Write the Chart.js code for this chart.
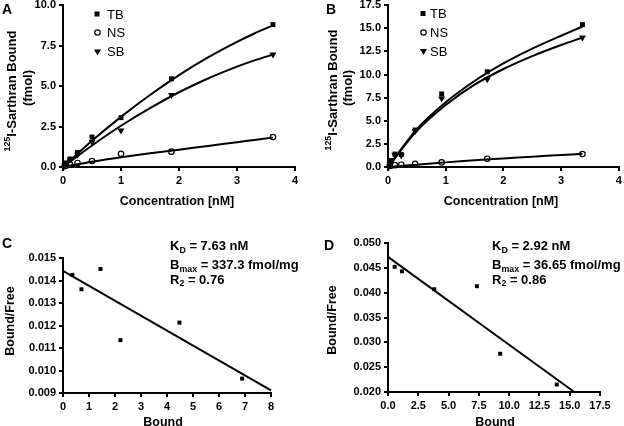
<!DOCTYPE html>
<html>
<head>
<meta charset="utf-8">
<script src="https://cdn.jsdelivr.net/npm/chart.js@4.4.0/dist/chart.umd.min.js"></script>
<style>
  html, body { margin: 0; padding: 0; background: #fff; }
  #wrap { position: relative; width: 624px; height: 426px; }
  #wrap canvas { position: absolute; left: 0; top: 0; }
</style>
</head>
<body>
<div id="wrap">
  <canvas id="chart-a" width="624" height="426"></canvas>
  <canvas id="chart-b" width="624" height="426"></canvas>
  <canvas id="chart-c" width="624" height="426"></canvas>
  <canvas id="chart-d" width="624" height="426"></canvas>
</div>
<script>
// --- A: saturation binding, panel 1
var concA = [0.03, 0.06, 0.12, 0.25, 0.5, 1.0, 1.87, 3.62];
var tbA = [0.15, 0.25, 0.5, 0.9, 1.85, 3.05, 5.45, 8.8];
var nsA = [0.05, 0.1, 0.15, 0.25, 0.37, 0.82, 0.95, 1.85];
var sbA = [0.1, 0.2, 0.4, 0.75, 1.55, 2.25, 4.45, 6.95];
var fitXA = [0, 0.5, 1, 1.5, 2, 2.5, 3, 3.3, 3.62];
var fitTbA = [0, 1.62, 3.1, 4.45, 5.68, 6.77, 7.73, 8.25, 8.75];
var fitSbA = [0, 1.33, 2.55, 3.64, 4.62, 5.47, 6.2, 6.59, 6.95];
var fitNsA = [0, 0.32, 0.6, 0.85, 1.07, 1.3, 1.53, 1.67, 1.82];

// --- B: saturation binding, panel 2
var concB = [0.03, 0.06, 0.12, 0.23, 0.47, 0.93, 1.72, 3.37];
var tbB = [0.4, 0.7, 1.4, 1.35, 4.0, 7.9, 10.3, 15.4];
var nsB = [0.1, 0.15, 0.2, 0.25, 0.35, 0.5, 0.9, 1.4];
var sbB = [0.3, 0.6, 1.3, 1.25, 3.9, 7.4, 9.5, 14.0];
var fitXB = [0, 0.5, 1, 1.5, 2, 2.5, 3, 3.37];
var fitTbB = [0, 4.1, 7.0, 9.3, 11.2, 12.8, 14.2, 15.2];
var fitSbB = [0, 3.9, 6.7, 8.9, 10.6, 12.0, 13.2, 14.0];
var fitNsB = [0, 0.25, 0.5, 0.72, 0.93, 1.12, 1.3, 1.42];

// --- C / D: Scatchard plots
var boundC = [0.36, 0.71, 1.44, 2.21, 4.48, 6.89];
var ratioC = [0.01425, 0.01361, 0.01451, 0.01135, 0.01213, 0.00964];
var lineXC = [0, 8];
var lineYC = [0.01443, 0.00912];

var boundD = [0.55, 1.15, 3.82, 7.34, 9.26, 13.93];
var ratioD = [0.0452, 0.0443, 0.0407, 0.0413, 0.0277, 0.0215];
var lineXD = [0, 15.38];
var lineYD = [0.0472, 0.020];

var FONT = "'Liberation Sans', Arial, sans-serif";
Chart.defaults.font.family = FONT;
Chart.defaults.color = "#000";

var STYLE = {
  TB: { pointStyle: "rect", pointRadius: 3.5, backgroundColor: "#000", borderColor: "#000", borderWidth: 0 },
  NS: { pointStyle: "circle", pointRadius: 2.7, backgroundColor: "#fff", borderColor: "#000", borderWidth: 1.2 },
  SB: { pointStyle: "triangle", pointRadius: 4, rotation: 180, backgroundColor: "#000", borderColor: "#000", borderWidth: 0 },
  SQ: { pointStyle: "rect", pointRadius: 2.8, backgroundColor: "#000", borderColor: "#000", borderWidth: 0 },
};

function pts(xs, ys) {
  return xs.map(function (x, i) { return { x: x, y: ys[i] }; });
}
function marks(label, xs, ys, style) {
  return Object.assign({ label: label, data: pts(xs, ys), showLine: false, clip: false }, style);
}
function fit(xs, ys) {
  return { data: pts(xs, ys), showLine: true, borderColor: "#000", borderWidth: 2,
    pointRadius: 0, tension: 0.3, fill: false, clip: false };
}

function fontStr(part, size, weight) {
  var s = part[1] ? size * 0.68 : size;
  return weight + " " + s + "px " + FONT;
}

// 带上标/下标的文字
function drawRich(ctx, it) {
  var size = it.size, weight = it.weight || "bold";
  ctx.save();
  ctx.translate(it.x, it.y);
  if (it.rot) ctx.rotate(-Math.PI / 2);
  ctx.fillStyle = "#000";
  ctx.textBaseline = "alphabetic";
  ctx.textAlign = "left";
  var widths = it.parts.map(function (p) { ctx.font = fontStr(p, size, weight); return ctx.measureText(p[0]).width; });
  var total = widths.reduce(function (a, b) { return a + b; }, 0);
  var cx = it.align === "center" ? -total / 2 : 0;
  var base = it.mid ? size * 0.36 : 0;
  it.parts.forEach(function (p, i) {
    ctx.font = fontStr(p, size, weight);
    var dy = p[1] === "sup" ? -size * 0.4 : p[1] === "sub" ? size * 0.22 : 0;
    ctx.fillText(p[0], cx, base + dy);
    cx += widths[i];
  });
  ctx.restore();
}

function drawMarker(ctx, name, x, y) {
  ctx.save();
  ctx.fillStyle = "#000";
  ctx.strokeStyle = "#000";
  ctx.beginPath();
  if (name === "TB") {
    ctx.fillRect(x - 2.5, y - 2.5, 5, 5);
  } else if (name === "NS") {
    ctx.lineWidth = 1.2;
    ctx.arc(x, y, 2.7, 0, Math.PI * 2);
    ctx.fillStyle = "#fff";
    ctx.fill();
    ctx.stroke();
  } else {
    ctx.moveTo(x - 3.5, y - 2);
    ctx.lineTo(x + 3.5, y - 2);
    ctx.lineTo(x, y + 4);
    ctx.closePath();
    ctx.fill();
  }
  ctx.restore();
}

function textPlugin(items, keys) {
  return {
    id: "panelText",
    afterDraw: function (chart) {
      var ctx = chart.ctx;
      items.forEach(function (it) { drawRich(ctx, it); });
      (keys || []).forEach(function (k) {
        drawMarker(ctx, k.name, k.mx, k.y);
        drawRich(ctx, { parts: [[k.name, ""]], x: k.tx, y: k.y, size: 13, weight: "normal", mid: true });
      });
    },
  };
}

function axis(min, max, step, dec, size, isX) {
  return {
    type: "linear", min: min, max: max,
    ticks: { stepSize: step, autoSkip: false, maxRotation: 0, padding: 3,
      font: { size: 11, weight: "bold" }, color: "#000",
      callback: function (v) { return Number(v).toFixed(dec); } },
    grid: { drawOnChartArea: false, drawTicks: true, tickLength: 4, color: "#000", lineWidth: 2 },
    border: { display: true, color: "#000", width: 2 },
    afterFit: function (s) {
      if (isX) { s.height = size; s.paddingLeft = 0; s.paddingRight = 0; }
      else { s.width = size; s.paddingTop = 0; s.paddingBottom = 0; }
    },
  };
}

function panel(id, p) {
  var yW = p.yW, xH = 20;
  new Chart(document.getElementById(id).getContext("2d"), {
    type: "scatter",
    data: { datasets: p.datasets },
    options: {
      responsive: false,
      animation: false,
      layout: { padding: { left: p.area.l - yW, right: 624 - p.area.r, top: p.area.t, bottom: 426 - p.area.b - xH } },
      plugins: { legend: { display: false }, tooltip: { enabled: false } },
      scales: { x: axis(p.x[0], p.x[1], p.x[2], p.x[3], xH, true), y: axis(p.y[0], p.y[1], p.y[2], p.y[3], yW, false) },
    },
    plugins: [textPlugin(p.items, p.keys)],
  });
}

panel("chart-a", {
  area: { l: 63, r: 295, t: 5, b: 167 }, yW: 30,
  x: [0, 4, 1, 0], y: [0, 10, 2.5, 1],
  datasets: [fit(fitXA, fitTbA), fit(fitXA, fitSbA), fit(fitXA, fitNsA),
    marks("TB", concA, tbA, STYLE.TB), marks("NS", concA, nsA, STYLE.NS), marks("SB", concA, sbA, STYLE.SB)],
  items: [
    { parts: [["A", ""]], x: 2, y: 14, size: 14 },
    { parts: [["125", "sup"], ["I-Sarthran Bound", ""]], x: 11, y: 91, size: 13, rot: true, mid: true, align: "center" },
    { parts: [["(fmol)", ""]], x: 27, y: 88, size: 13, rot: true, mid: true, align: "center" },
    { parts: [["Concentration [nM]", ""]], x: 177, y: 200, size: 12.5, mid: true, align: "center" },
  ],
  keys: [{ name: "TB", mx: 97, tx: 107, y: 14 }, { name: "NS", mx: 97.5, tx: 107, y: 32.5 }, { name: "SB", mx: 97.5, tx: 107, y: 51.5 }],
});

panel("chart-b", {
  area: { l: 388, r: 619, t: 5, b: 167 }, yW: 30,
  x: [0, 4, 1, 0], y: [0, 17.5, 2.5, 1],
  datasets: [fit(fitXB, fitTbB), fit(fitXB, fitSbB), fit(fitXB, fitNsB),
    marks("TB", concB, tbB, STYLE.TB), marks("NS", concB, nsB, STYLE.NS), marks("SB", concB, sbB, STYLE.SB)],
  items: [
    { parts: [["B", ""]], x: 326, y: 14, size: 14 },
    { parts: [["125", "sup"], ["I-Sarthran Bound", ""]], x: 332, y: 90, size: 13, rot: true, mid: true, align: "center" },
    { parts: [["(fmol)", ""]], x: 347, y: 88, size: 13, rot: true, mid: true, align: "center" },
    { parts: [["Concentration [nM]", ""]], x: 501, y: 200, size: 12.5, mid: true, align: "center" },
  ],
  keys: [{ name: "TB", mx: 423, tx: 430, y: 13.5 }, { name: "NS", mx: 423.5, tx: 430, y: 32.5 }, { name: "SB", mx: 423.5, tx: 430, y: 51 }],
});

panel("chart-c", {
  area: { l: 63, r: 271, t: 258, b: 393 }, yW: 36,
  x: [0, 8, 1, 0], y: [0.009, 0.015, 0.001, 3],
  datasets: [fit(lineXC, lineYC), marks("C", boundC, ratioC, STYLE.SQ)],
  items: [
    { parts: [["C", ""]], x: 2, y: 248, size: 14 },
    { parts: [["Bound/Free", ""]], x: 9, y: 321, size: 12.5, rot: true, mid: true, align: "center" },
    { parts: [["Bound", ""]], x: 163, y: 421, size: 12.5, mid: true, align: "center" },
    { parts: [["K", ""], ["D", "sub"], [" = 7.63 nM", ""]], x: 170, y: 250, size: 13 },
    { parts: [["B", ""], ["max", "sub"], [" = 337.3 fmol/mg", ""]], x: 170, y: 269, size: 13 },
    { parts: [["R", ""], ["2", "sub"], [" = 0.76", ""]], x: 170, y: 283.5, size: 13 },
  ],
});

panel("chart-d", {
  area: { l: 388, r: 600, t: 243, b: 392 }, yW: 36,
  x: [0, 17.5, 2.5, 1], y: [0.020, 0.050, 0.005, 3],
  datasets: [fit(lineXD, lineYD), marks("D", boundD, ratioD, STYLE.SQ)],
  items: [
    { parts: [["D", ""]], x: 324, y: 250, size: 14 },
    { parts: [["Bound/Free", ""]], x: 331, y: 320, size: 12.5, rot: true, mid: true, align: "center" },
    { parts: [["Bound", ""]], x: 495, y: 421, size: 12.5, mid: true, align: "center" },
    { parts: [["K", ""], ["D", "sub"], [" = 2.92 nM", ""]], x: 492, y: 250, size: 13 },
    { parts: [["B", ""], ["max", "sub"], [" = 36.65 fmol/mg", ""]], x: 492, y: 269, size: 13 },
    { parts: [["R", ""], ["2", "sub"], [" = 0.86", ""]], x: 492, y: 283.5, size: 13 },
  ],
});
</script>
</body>
</html>
